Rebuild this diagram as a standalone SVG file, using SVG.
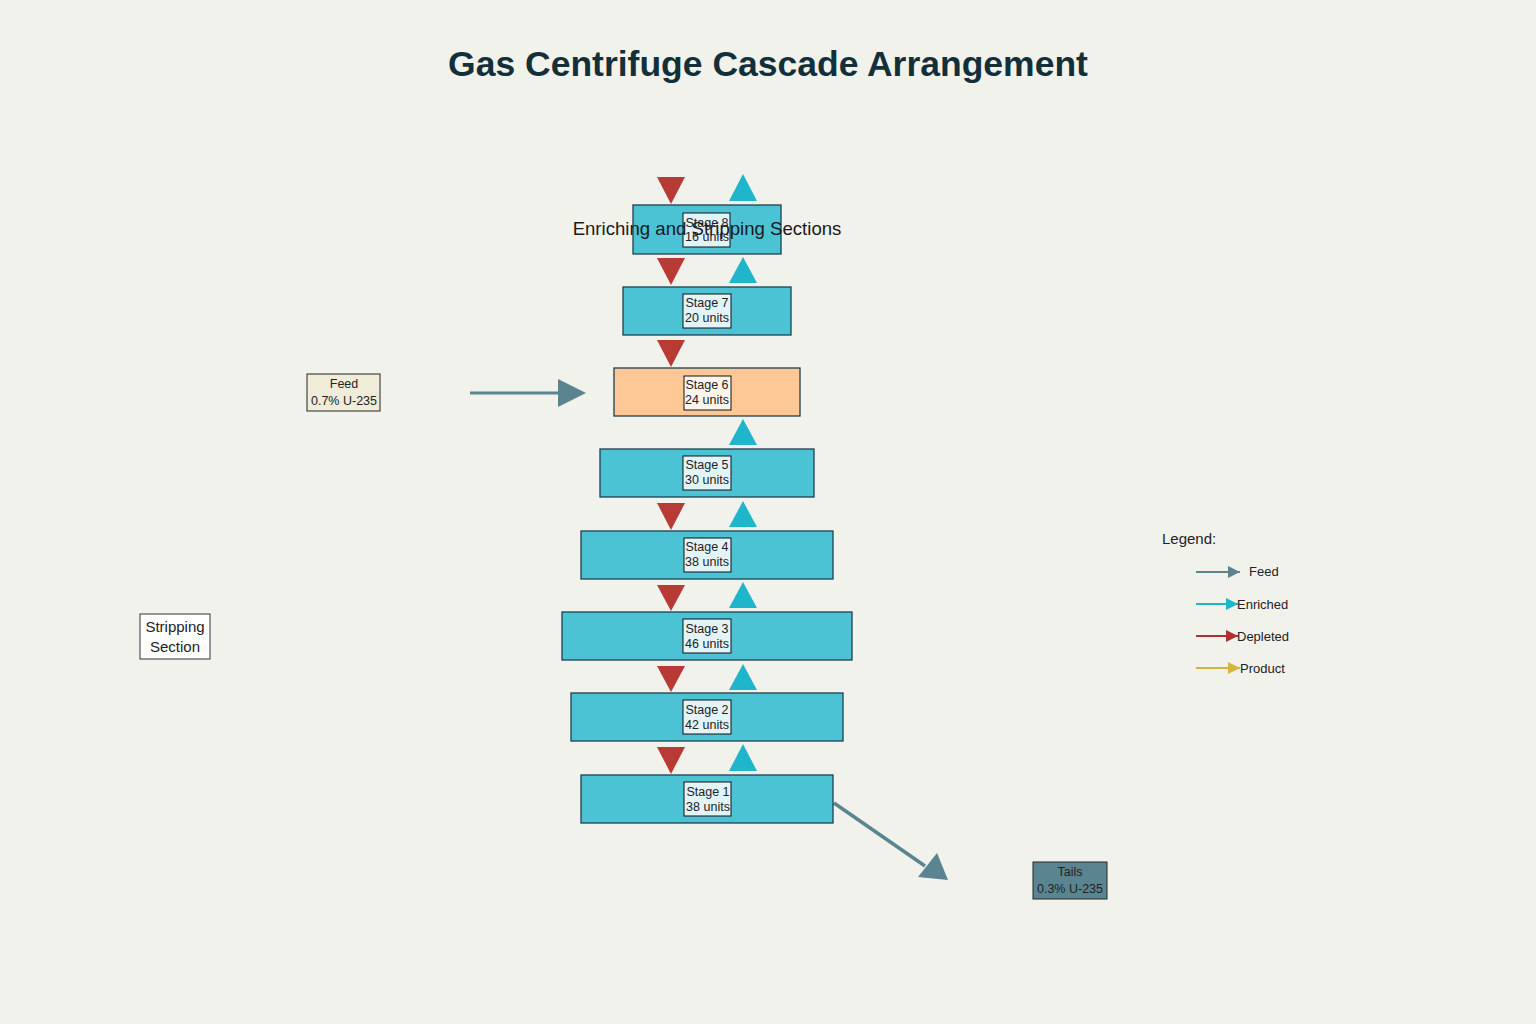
<svg xmlns="http://www.w3.org/2000/svg" width="1536" height="1024" viewBox="0 0 1536 1024">
<style>
text{font-family:"Liberation Sans",Arial,sans-serif;}
.stage{fill:#4cc3d5;stroke:#1d3f50;stroke-width:1.3;}
.lbl{fill:#e2f4f8;stroke:#111;stroke-width:1;}
.lt{font-size:12.5px;fill:#222;text-anchor:middle;}
.dn{fill:#b83a35;}
.up{fill:#1fb5cb;}
.leg{font-size:13px;fill:#222;}
</style>
<defs>
<marker id="lFeed" viewBox="0 0 10 10" markerWidth="12" markerHeight="12" refX="10" refY="5" orient="auto" markerUnits="userSpaceOnUse"><path d="M0,0 L10,5 L0,10 z" fill="#5a8490"/></marker>
<marker id="lEnr" viewBox="0 0 10 10" markerWidth="12" markerHeight="12" refX="10" refY="5" orient="auto" markerUnits="userSpaceOnUse"><path d="M0,0 L10,5 L0,10 z" fill="#1fb5cb"/></marker>
<marker id="lDep" viewBox="0 0 10 10" markerWidth="12" markerHeight="12" refX="10" refY="5" orient="auto" markerUnits="userSpaceOnUse"><path d="M0,0 L10,5 L0,10 z" fill="#b22f2f"/></marker>
<marker id="lPro" viewBox="0 0 10 10" markerWidth="12" markerHeight="12" refX="10" refY="5" orient="auto" markerUnits="userSpaceOnUse"><path d="M0,0 L10,5 L0,10 z" fill="#d4b43c"/></marker>
</defs>
<rect width="1536" height="1024" fill="#f2f2ed"/>
<text x="768" y="76" font-size="35.5" font-weight="bold" fill="#13303a" text-anchor="middle">Gas Centrifuge Cascade Arrangement</text>

<g id="connectors">
<polygon class="dn" points="657,177 685,177 671,204"/>
<polygon class="up" points="729,201 757,201 743,174"/>
<polygon class="dn" points="657,258 685,258 671,285"/>
<polygon class="up" points="729,283 757,283 743,257"/>
<polygon class="dn" points="657,340 685,340 671,367"/>
<polygon class="up" points="729,445 757,445 743,419"/>
<polygon class="dn" points="657,503 685,503 671,530"/>
<polygon class="up" points="729,527 757,527 743,501"/>
<polygon class="dn" points="657,585 685,585 671,611"/>
<polygon class="up" points="729,608 757,608 743,582"/>
<polygon class="dn" points="657,666 685,666 671,692"/>
<polygon class="up" points="729,690 757,690 743,664"/>
<polygon class="dn" points="657,747 685,747 671,774"/>
<polygon class="up" points="729,771 757,771 743,744"/>
<line x1="470" y1="393" x2="560" y2="393" stroke="#5a8490" stroke-width="3"/>
<polygon points="558,379 586,393 558,407" fill="#5a8490"/>
<line x1="834" y1="803" x2="925" y2="866" stroke="#5a8490" stroke-width="3.5"/>
<polygon points="918,877 937,853 948,880" fill="#5a8490"/>
</g>

<g id="stage8"><rect class="stage" x="633" y="205" width="148" height="49"/><rect class="lbl" x="683" y="213" width="47" height="34"/><text class="lt" x="707" y="227">Stage 8</text><text class="lt" x="707" y="241">16 units</text></g>
<g id="stage7"><rect class="stage" x="623" y="287" width="168" height="48"/><rect class="lbl" x="683" y="294" width="48" height="34"/><text class="lt" x="707" y="307">Stage 7</text><text class="lt" x="707" y="322">20 units</text></g>
<g id="stage6"><rect x="614" y="368" width="186" height="48" fill="#fdc896" stroke="#1d3f50" stroke-width="1.3"/><rect x="684" y="376" width="47" height="34" fill="#fdf5ec" stroke="#111" stroke-width="1"/><text class="lt" x="707" y="389">Stage 6</text><text class="lt" x="707" y="404">24 units</text></g>
<g id="stage5"><rect class="stage" x="600" y="449" width="214" height="48"/><rect class="lbl" x="683" y="456" width="48" height="34"/><text class="lt" x="707" y="469">Stage 5</text><text class="lt" x="707" y="484">30 units</text></g>
<g id="stage4"><rect class="stage" x="581" y="531" width="252" height="48"/><rect class="lbl" x="684" y="538" width="47" height="34"/><text class="lt" x="707" y="551">Stage 4</text><text class="lt" x="707" y="566">38 units</text></g>
<g id="stage3"><rect class="stage" x="562" y="612" width="290" height="48"/><rect class="lbl" x="683" y="619" width="48" height="34"/><text class="lt" x="707" y="633">Stage 3</text><text class="lt" x="707" y="648">46 units</text></g>
<g id="stage2"><rect class="stage" x="571" y="693" width="272" height="48"/><rect class="lbl" x="683" y="700" width="48" height="34"/><text class="lt" x="707" y="714">Stage 2</text><text class="lt" x="707" y="729">42 units</text></g>
<g id="stage1"><rect class="stage" x="581" y="775" width="252" height="48"/><rect class="lbl" x="684" y="782" width="47" height="34"/><text class="lt" x="708" y="796">Stage 1</text><text class="lt" x="708" y="811">38 units</text></g>

<text x="707" y="235" font-size="18.6" fill="#1a1a1a" text-anchor="middle">Enriching and Stripping Sections</text>

<g id="feed"><rect x="307" y="374" width="73" height="37" fill="#efedd9" stroke="#222" stroke-width="1"/><text class="lt" x="344" y="388">Feed</text><text class="lt" x="344" y="405">0.7% U-235</text></g>
<g id="tails"><rect x="1033" y="862" width="74" height="37" fill="#5a8590" stroke="#222" stroke-width="1"/><text class="lt" x="1070" y="876" fill="#1a2a30">Tails</text><text class="lt" x="1070" y="893" fill="#1a2a30">0.3% U-235</text></g>
<g id="stripping"><rect x="140" y="614" width="70" height="45" fill="#ffffff" stroke="#333" stroke-width="1"/><text x="175" y="632" font-size="15" fill="#222" text-anchor="middle">Stripping</text><text x="175" y="652" font-size="15" fill="#222" text-anchor="middle">Section</text></g>

<g id="legend">
<text x="1162" y="544" font-size="15" fill="#222">Legend:</text>
<line x1="1196" y1="572" x2="1240" y2="572" stroke="#5a8490" stroke-width="2" marker-end="url(#lFeed)"/>
<text class="leg" x="1249" y="576">Feed</text>
<line x1="1196" y1="604" x2="1238" y2="604" stroke="#1fb5cb" stroke-width="2" marker-end="url(#lEnr)"/>
<text class="leg" x="1237" y="609">Enriched</text>
<line x1="1196" y1="636" x2="1238" y2="636" stroke="#b22f2f" stroke-width="2" marker-end="url(#lDep)"/>
<text class="leg" x="1237" y="641">Depleted</text>
<line x1="1196" y1="668" x2="1240" y2="668" stroke="#d4b43c" stroke-width="2" marker-end="url(#lPro)"/>
<text class="leg" x="1240" y="673">Product</text>
</g>
</svg>
